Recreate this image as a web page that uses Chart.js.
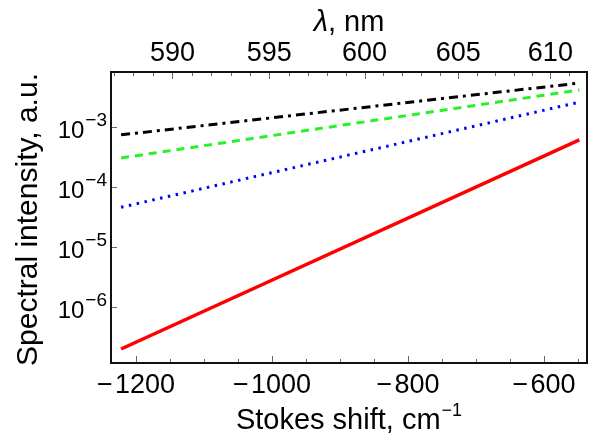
<!DOCTYPE html>
<html><head><meta charset="utf-8">
<script src="https://cdn.jsdelivr.net/npm/chart.js@4"></script>
<style>html,body{margin:0;padding:0;background:#fff}</style>
</head><body>
<canvas id="c" width="598" height="435"></canvas>
<script>
// ---- data ----
const shiftPts = [-1222, -548];               // Stokes shift, cm^-1 (line ends)
const redSeries   = [2.0e-7, 6.1e-4];
const blueSeries  = [4.6e-5, 2.6e-3];
const greenSeries = [3.05e-4, 4.14e-3];
const blackSeries = [7.4e-4, 5.4e-3];
const bottomTickValues = [-1200, -1000, -800, -600];
const topTickNm = [590, 595, 600, 605, 610];
const yTickValues = [1e-6, 1e-5, 1e-4, 1e-3];
const yTickExp = ['\u22126', '\u22125', '\u22124', '\u22123'];
const laserNm = 632.8;
const xMin = -1236.8, xMax = -536.8;
const yMin = 1.17e-7, yMax = 8.25e-3;

function nmToShift(nm){ return 1e7/laserNm - 1e7/nm; }
function pts(ys){ return shiftPts.map((x,i)=>({x:x, y:ys[i]})); }
const FAM = '"Liberation Sans", Arial, sans-serif';
const MINUS = '\u2212';

const decor = {
  id:'decor',
  afterDraw(chart){
    const ctx = chart.ctx, a = chart.chartArea;
    const xs = chart.scales.x, ys = chart.scales.y;
    ctx.save();
    ctx.lineWidth = 1; ctx.strokeStyle = '#666';
    function seg(x0,y0,x1,y1){ctx.beginPath();ctx.moveTo(x0,y0);ctx.lineTo(x1,y1);ctx.stroke();}
    for (let v = -1250; v <= xMax; v += 50) {
      if (v < xMin) continue;
      const px = Math.round(xs.getPixelForValue(v)) + 0.5;
      const major = bottomTickValues.indexOf(v) >= 0;
      seg(px, a.bottom, px, a.bottom - (major ? 7 : 4));
    }
    for (let nm = 585; nm <= 615; nm++) {
      const s = nmToShift(nm);
      if (s < xMin || s > xMax) continue;
      const px = Math.round(xs.getPixelForValue(s)) + 0.5;
      const major = topTickNm.indexOf(nm) >= 0;
      seg(px, a.top, px, a.top + (major ? 7 : 4));
    }
    yTickValues.forEach(v => {
      const py = Math.round(ys.getPixelForValue(v)) + 0.5;
      seg(a.left, py, a.left + 6, py);
    });
    ctx.strokeStyle = '#111'; ctx.lineWidth = 2;
    ctx.strokeRect(a.left, a.top, a.right - a.left, a.bottom - a.top);

    ctx.fillStyle = '#000';
    yTickValues.forEach((v, i) => {
      const py = ys.getPixelForValue(v);
      ctx.font = '19px ' + FAM;
      const ew = ctx.measureText(yTickExp[i]).width;
      const right = a.left - 4;
      ctx.textAlign = 'left'; ctx.textBaseline = 'alphabetic';
      ctx.fillText(yTickExp[i], right - ew, py - 1);
      ctx.font = '24px ' + FAM;
      ctx.textAlign = 'right';
      ctx.fillText('10', right - ew - 1, py + 11);
    });
    ctx.font = '29px ' + FAM;
    const t1 = 'Stokes shift, cm';
    const w1 = ctx.measureText(t1).width;
    ctx.font = '18px ' + FAM;
    const sup = MINUS + '1';
    const w2 = ctx.measureText(sup).width;
    const cx = (a.left + a.right) / 2;
    const x0 = cx - (w1 + w2 + 1) / 2;
    ctx.textAlign = 'left';
    ctx.font = '29px ' + FAM;
    ctx.fillText(t1, x0, 429);
    ctx.font = '18px ' + FAM;
    ctx.fillText(sup, x0 + w1 + 1, 416);
    ctx.font = 'italic 29px ' + FAM;
    const l1 = '\u03bb';
    const lw = ctx.measureText(l1).width;
    ctx.font = '29px ' + FAM;
    const l2 = ', nm';
    const lw2 = ctx.measureText(l2).width;
    const lx = cx - (lw + lw2) / 2;
    ctx.font = 'italic 29px ' + FAM;
    ctx.fillText(l1, lx, 31);
    ctx.font = '29px ' + FAM;
    ctx.fillText(l2, lx + lw, 31);
    ctx.translate(37, (a.top + a.bottom) / 2 + 2);
    ctx.rotate(-Math.PI / 2);
    ctx.textAlign = 'center';
    ctx.font = '30px ' + FAM;
    ctx.fillText('Spectral intensity, a.u.', 0, 0);
    ctx.restore();
  }
};

new Chart(document.getElementById('c'), {
  type: 'line',
  data: {
    datasets: [
      { label:'black', data: pts(blackSeries), borderColor:'#000000', borderWidth:3, borderDash:[9,5,3,5] },
      { label:'green', data: pts(greenSeries), borderColor:'#2af02a', borderWidth:3, borderDash:[8,6] },
      { label:'blue',  data: pts(blueSeries),  borderColor:'#0000ff', borderWidth:3, borderDash:[2.5,5.5] },
      { label:'red',   data: pts(redSeries),   borderColor:'#ff0000', borderWidth:3.5 }
    ]
  },
  options: {
    responsive: false,
    devicePixelRatio: 1,
    animation: false,
    layout: { padding: { left: 0, right: 11, top: 0, bottom: 0 } },
    elements: { point: { radius: 0 }, line: { tension: 0, borderCapStyle: 'butt' } },
    plugins: { legend: { display: false }, tooltip: { enabled: false } },
    scales: {
      x: {
        type: 'linear', position: 'bottom', min: xMin, max: xMax,
        grid: { display: false, drawTicks: false }, border: { display: false },
        afterBuildTicks: s => { s.ticks = bottomTickValues.map(v => ({ value: v })); },
        afterFit: s => { s.height = 72; },
        ticks: { padding: 6, color: '#000', font: { family: FAM, size: 27 }, maxRotation: 0, autoSkip: false,
          callback: v => v < 0 ? MINUS + '\u200a' + Math.abs(v) : String(v) }
      },
      x2: {
        type: 'linear', position: 'top', min: xMin, max: xMax,
        grid: { display: false, drawTicks: false }, border: { display: false },
        afterBuildTicks: s => { s.ticks = topTickNm.map(nm => ({ value: nmToShift(nm) })); },
        afterFit: s => { s.height = 72; },
        ticks: { padding: 2, color: '#000', font: { family: FAM, size: 27 }, maxRotation: 0, autoSkip: false,
          callback: (v, i) => String(topTickNm[i]) }
      },
      y: {
        type: 'logarithmic', position: 'left', min: yMin, max: yMax,
        grid: { display: false, drawTicks: false }, border: { display: false },
        afterBuildTicks: s => { s.ticks = yTickValues.map(v => ({ value: v })); },
        afterFit: s => { s.width = 111; },
        ticks: { display: false }
      }
    }
  },
  plugins: [decor]
});
</script>
</body></html>
